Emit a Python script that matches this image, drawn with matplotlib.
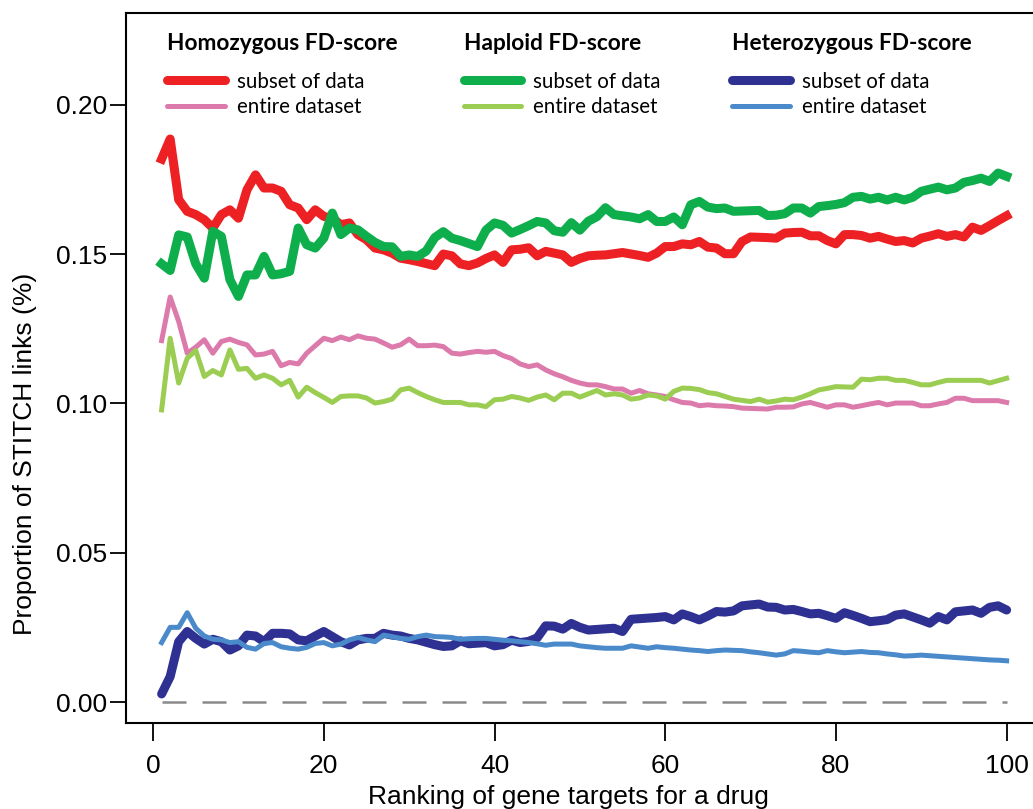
import matplotlib
matplotlib.use("Agg")
import matplotlib.pyplot as plt
from matplotlib.lines import Line2D
from matplotlib.legend import Legend
from matplotlib.font_manager import FontProperties
import numpy as np

rank = np.arange(1, 101)

homo_subset = [
    0.1818, 0.1885, 0.1682, 0.1643, 0.1632, 0.1615, 0.1587, 0.1632, 0.1648, 0.1620,
    0.1715, 0.1765, 0.1721, 0.1721, 0.1710, 0.1665, 0.1654, 0.1615, 0.1648, 0.1626,
    0.1620, 0.1598, 0.1604, 0.1565, 0.1548, 0.1520, 0.1514, 0.1503, 0.1486, 0.1481,
    0.1475, 0.1468, 0.1461, 0.1500, 0.1494, 0.1467, 0.1461, 0.1470, 0.1485, 0.1497,
    0.1472, 0.1514, 0.1516, 0.1521, 0.1494, 0.1509, 0.1503, 0.1497, 0.1472, 0.1485,
    0.1494, 0.1496, 0.1497, 0.1501, 0.1505, 0.1500, 0.1495, 0.1489, 0.1503, 0.1525,
    0.1525, 0.1534, 0.1531, 0.1542, 0.1523, 0.1520, 0.1501, 0.1501, 0.1542, 0.1557,
    0.1556, 0.1555, 0.1553, 0.1570, 0.1572, 0.1573, 0.1561, 0.1561, 0.1545, 0.1534,
    0.1565, 0.1565, 0.1562, 0.1553, 0.1559, 0.1550, 0.1542, 0.1545, 0.1537, 0.1553,
    0.1560, 0.1568, 0.1559, 0.1565, 0.1557, 0.1590, 0.1579, 0.1595, 0.1612, 0.1628,
]
homo_entire = [
    0.1210, 0.1356, 0.1274, 0.1168, 0.1188, 0.1213, 0.1168, 0.1207, 0.1215, 0.1204,
    0.1196, 0.1162, 0.1165, 0.1174, 0.1126, 0.1137, 0.1132, 0.1168, 0.1193, 0.1218,
    0.1210, 0.1222, 0.1213, 0.1226, 0.1218, 0.1215, 0.1202, 0.1188, 0.1196, 0.1215,
    0.1193, 0.1193, 0.1195, 0.1190, 0.1168, 0.1165, 0.1170, 0.1174, 0.1171, 0.1174,
    0.1160, 0.1150, 0.1132, 0.1123, 0.1129, 0.1112, 0.1099, 0.1089, 0.1077, 0.1068,
    0.1062, 0.1062, 0.1056, 0.1048, 0.1048, 0.1034, 0.1043, 0.1032, 0.1028, 0.1023,
    0.1012, 0.1003, 0.1001, 0.0992, 0.0995, 0.0992, 0.0991, 0.0989, 0.0984, 0.0983,
    0.0982, 0.0981, 0.0987, 0.0987, 0.0988, 0.0998, 0.1003, 0.0995, 0.0987, 0.0995,
    0.0995, 0.0987, 0.0992, 0.0998, 0.1003, 0.0995, 0.1001, 0.1001, 0.1001, 0.0992,
    0.0992, 0.0998, 0.1003, 0.1017, 0.1017, 0.1009, 0.1009, 0.1009, 0.1009, 0.1003,
]
hap_subset = [
    0.1467, 0.1445, 0.1564, 0.1557, 0.1467, 0.1419, 0.1576, 0.1559, 0.1414, 0.1358,
    0.1430, 0.1430, 0.1492, 0.1430, 0.1434, 0.1442, 0.1587, 0.1531, 0.1520, 0.1553,
    0.1637, 0.1565, 0.1587, 0.1581, 0.1559, 0.1539, 0.1525, 0.1524, 0.1492, 0.1497,
    0.1492, 0.1510, 0.1555, 0.1575, 0.1553, 0.1545, 0.1535, 0.1525, 0.1580, 0.1604,
    0.1596, 0.1570, 0.1582, 0.1595, 0.1609, 0.1604, 0.1578, 0.1573, 0.1605, 0.1580,
    0.1610, 0.1625, 0.1655, 0.1632, 0.1628, 0.1624, 0.1618, 0.1632, 0.1609, 0.1609,
    0.1624, 0.1598, 0.1665, 0.1676, 0.1657, 0.1652, 0.1654, 0.1643, 0.1644, 0.1645,
    0.1646, 0.1629, 0.1630, 0.1635, 0.1654, 0.1654, 0.1637, 0.1659, 0.1662, 0.1666,
    0.1672, 0.1690, 0.1693, 0.1684, 0.1690, 0.1681, 0.1690, 0.1681, 0.1690, 0.1710,
    0.1717, 0.1724, 0.1715, 0.1721, 0.1740, 0.1746, 0.1754, 0.1743, 0.1771, 0.1760,
]
hap_entire = [
    0.0978, 0.1218, 0.1068, 0.1151, 0.1177, 0.1090, 0.1110, 0.1095, 0.1179, 0.1114,
    0.1117, 0.1084, 0.1095, 0.1084, 0.1062, 0.1077, 0.1021, 0.1054, 0.1036, 0.1020,
    0.1003, 0.1023, 0.1025, 0.1025, 0.1018, 0.1001, 0.1006, 0.1014, 0.1045, 0.1051,
    0.1036, 0.1023, 0.1012, 0.1003, 0.1003, 0.1003, 0.0995, 0.0995, 0.0989, 0.1012,
    0.1014, 0.1023, 0.1018, 0.1010, 0.1021, 0.1028, 0.1012, 0.1034, 0.1034, 0.1021,
    0.1032, 0.1043, 0.1028, 0.1032, 0.1028, 0.1014, 0.1018, 0.1028, 0.1025, 0.1014,
    0.1040, 0.1051, 0.1050, 0.1046, 0.1036, 0.1032, 0.1023, 0.1014, 0.1010, 0.1006,
    0.1014, 0.1004, 0.1008, 0.1014, 0.1012, 0.1021, 0.1032, 0.1045, 0.1050, 0.1056,
    0.1055, 0.1054, 0.1081, 0.1079, 0.1084, 0.1084, 0.1077, 0.1077, 0.1070, 0.1062,
    0.1062, 0.1070, 0.1077, 0.1077, 0.1077, 0.1077, 0.1077, 0.1068, 0.1076, 0.1084,
]
het_subset = [
    0.0027, 0.0085, 0.0202, 0.0236, 0.0213, 0.0194, 0.0210, 0.0202, 0.0174, 0.0188,
    0.0224, 0.0221, 0.0202, 0.0230, 0.0230, 0.0228, 0.0208, 0.0205, 0.0221, 0.0236,
    0.0219, 0.0202, 0.0191, 0.0208, 0.0213, 0.0213, 0.0230, 0.0224, 0.0221, 0.0213,
    0.0208, 0.0200, 0.0192, 0.0186, 0.0188, 0.0205, 0.0195, 0.0197, 0.0199, 0.0188,
    0.0192, 0.0207, 0.0199, 0.0203, 0.0215, 0.0255, 0.0254, 0.0244, 0.0263, 0.0250,
    0.0241, 0.0243, 0.0245, 0.0247, 0.0236, 0.0277, 0.0279, 0.0281, 0.0283, 0.0286,
    0.0275, 0.0295, 0.0286, 0.0275, 0.0288, 0.0303, 0.0301, 0.0305, 0.0322, 0.0325,
    0.0328, 0.0318, 0.0317, 0.0308, 0.0310, 0.0303, 0.0295, 0.0297, 0.0289, 0.0280,
    0.0299, 0.0290, 0.0280, 0.0269, 0.0272, 0.0276, 0.0291, 0.0295, 0.0285, 0.0275,
    0.0264, 0.0286, 0.0275, 0.0302, 0.0305, 0.0308, 0.0297, 0.0317, 0.0322, 0.0308,
]
het_entire = [
    0.0199, 0.0250, 0.0250, 0.0299, 0.0247, 0.0221, 0.0210, 0.0208, 0.0199, 0.0202,
    0.0183, 0.0177, 0.0196, 0.0199, 0.0185, 0.0180, 0.0177, 0.0183, 0.0196, 0.0199,
    0.0188, 0.0194, 0.0208, 0.0216, 0.0208, 0.0202, 0.0224, 0.0219, 0.0213, 0.0210,
    0.0219, 0.0224, 0.0219, 0.0218, 0.0216, 0.0210, 0.0212, 0.0213, 0.0213, 0.0210,
    0.0207, 0.0205, 0.0202, 0.0199, 0.0195, 0.0190, 0.0194, 0.0194, 0.0194, 0.0188,
    0.0185, 0.0182, 0.0180, 0.0180, 0.0180, 0.0188, 0.0184, 0.0180, 0.0185, 0.0182,
    0.0180, 0.0177, 0.0174, 0.0172, 0.0169, 0.0172, 0.0174, 0.0173, 0.0172, 0.0168,
    0.0165, 0.0161, 0.0157, 0.0161, 0.0172, 0.0170, 0.0167, 0.0165, 0.0172, 0.0168,
    0.0165, 0.0167, 0.0169, 0.0166, 0.0165, 0.0161, 0.0158, 0.0154, 0.0155, 0.0157,
    0.0155, 0.0153, 0.0151, 0.0149, 0.0147, 0.0145, 0.0143, 0.0141, 0.0140, 0.0138,
]

groups = ["Homozygous FD-score", "Haploid FD-score", "Heterozygous FD-score"]
entries = ["subset of data", "entire dataset"]

c_red, c_pink = "#ED2024", "#DC7AAB"
c_green, c_lgreen = "#0DAE4B", "#9BCD52"
c_navy, c_blue = "#2E3192", "#4A8ACB"
thick, thin = 6.5, 3.6

fig = plt.figure(figsize=(10.33, 8.09), dpi=100)
ax = fig.add_axes([0.122, 0.1063, 0.888, 0.878])

ax.plot([rank[0], rank[-1]], [0, 0], color="#8A8A8A", lw=1.8,
        dashes=(9.6, 6.4), zorder=1)

ax.plot(rank, homo_subset, color=c_red, lw=thick, solid_joinstyle="round")
ax.plot(rank, homo_entire, color=c_pink, lw=thin, solid_joinstyle="round")
ax.plot(rank, hap_subset, color=c_green, lw=thick, solid_joinstyle="round")
ax.plot(rank, hap_entire, color=c_lgreen, lw=thin, solid_joinstyle="round")
ax.plot(rank, het_subset, color=c_navy, lw=thick, solid_joinstyle="round",
        solid_capstyle="round")
ax.plot(rank, het_entire, color=c_blue, lw=thin, solid_joinstyle="round")

ax.set_xlim(-3.17, 104.3)
ax.set_ylim(-0.00703, 0.2308)

ax.set_xticks([0, 20, 40, 60, 80, 100])
ax.set_yticks([0.0, 0.05, 0.10, 0.15, 0.20])
ax.set_yticklabels(["0.00", "0.05", "0.10", "0.15", "0.20"])

tick_font = {"family": "Liberation Sans", "size": 19}
for lab in ax.get_xticklabels() + ax.get_yticklabels():
    lab.set_fontfamily("Liberation Sans")
    lab.set_fontsize(19)
ax.tick_params(axis="x", length=13, width=1.3, pad=9)
ax.tick_params(axis="y", length=11.5, width=1.3, pad=2)

for s in ax.spines.values():
    s.set_linewidth(1.5)

ax.set_xlabel("Ranking of gene targets for a drug", fontdict=tick_font)
ax.xaxis.set_label_coords(0.482, -0.0873)
ax.set_ylabel("Proportion of STITCH links (%)", fontdict=tick_font)
ax.yaxis.set_label_coords(-0.097, 0.379)

# three small legends, one per FD-score type
pairs = [(c_red, c_pink), (c_green, c_lgreen), (c_navy, c_blue)]
anchors = [0.045, 0.368, 0.661]
for title, (c1, c2), x0 in zip(groups, pairs, anchors):
    handles = [Line2D([], [], color=c1, lw=thick, solid_capstyle="round"),
               Line2D([], [], color=c2, lw=thin, solid_capstyle="round")]
    label_fp = FontProperties(family="Lato", size=14.8)
    title_fp = FontProperties(family="Lato", weight="bold", size=16.3)
    leg = Legend(ax, handles, entries, loc="upper left",
                 bbox_to_anchor=(x0, 0.972), frameon=False, borderpad=0,
                 borderaxespad=0, handlelength=2.8, handletextpad=0.6,
                 labelspacing=0.28, title=title, alignment="left",
                 prop=label_fp, title_fontproperties=title_fp)
    leg._legend_box.sep = 13
    ax.add_artist(leg)

fig.savefig("out.png", dpi=100)
